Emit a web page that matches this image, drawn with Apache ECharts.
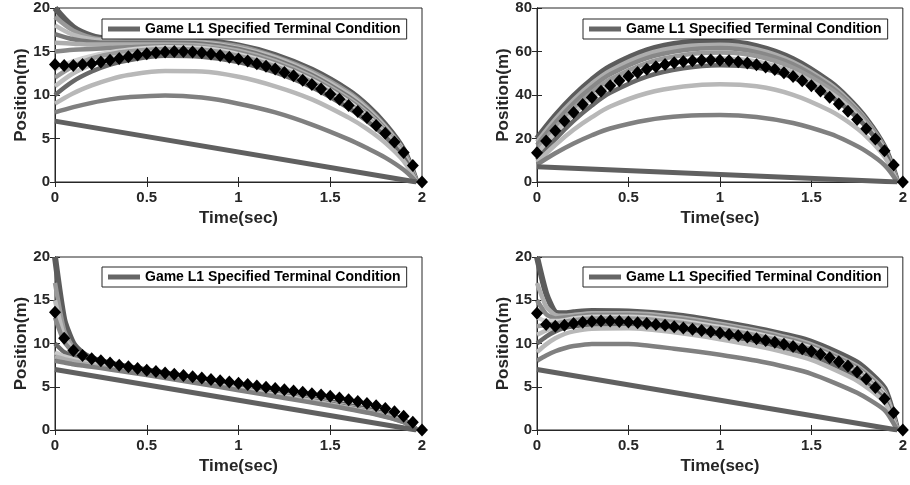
<!DOCTYPE html>
<html>
<head>
<meta charset="utf-8">
<script src="https://cdn.jsdelivr.net/npm/echarts@6/dist/echarts.min.js"></script>
<style>
  html, body { margin: 0; padding: 0; background: #fff; }
  #chart { width: 910px; height: 485px; }
</style>
</head>
<body>
<div id="chart"></div>
<script>
// ---- data -------------------------------------------------------------
const LEGEND_NAME = 'Game L1 Specified Terminal Condition';

// time samples (sec)
const smoothTime = [0, 0.1, 0.2, 0.3, 0.4, 0.6, 0.8, 1.0, 1.2, 1.4, 1.6, 1.7, 1.8, 1.9, 1.97];
const kinkTime   = [0, 0.05, 0.1, 0.15, 0.2, 0.3, 0.5, 0.75, 1.0, 1.25, 1.5, 1.75, 1.9, 1.97];
const floorTime  = [0, 1.97];
const markerTime = [0, 0.05, 0.1, 0.15, 0.2, 0.25, 0.3, 0.35, 0.4, 0.45, 0.5, 0.55, 0.6, 0.65, 0.7,
                    0.75, 0.8, 0.85, 0.9, 0.95, 1.0, 1.05, 1.1, 1.15, 1.2, 1.25, 1.3, 1.35, 1.4, 1.45,
                    1.5, 1.55, 1.6, 1.65, 1.7, 1.75, 1.8, 1.85, 1.9, 1.95, 2.0];

// straight baseline trajectory shared by all four cases (m)
const floorPos = [7, 0];

// case 1 (top left) trajectories, position (m) on smoothTime
const topLeftCurves = [
  [20, 17.8, 16.8, 16.4, 16.3, 16.3, 16.2, 15.7, 14.6, 12.9, 10.5, 8.8, 6.6, 3.7, 0],
  [19.0, 17.4, 16.6, 16.3, 16.2, 16.2, 16.1, 15.6, 14.4, 12.7, 10.3, 8.6, 6.4, 3.6, 0],
  [18.0, 16.9, 16.4, 16.2, 16.1, 16.1, 16.0, 15.4, 14.3, 12.5, 10.1, 8.4, 6.3, 3.5, 0],
  [17.0, 16.4, 16.1, 16.0, 16.0, 16.0, 15.9, 15.3, 14.1, 12.3, 9.8, 8.2, 6.1, 3.4, 0],
  [16.0, 15.9, 15.8, 15.8, 15.8, 15.8, 15.7, 15.1, 13.9, 12.1, 9.6, 8.0, 6.0, 3.3, 0],
  [15.0, 15.2, 15.3, 15.4, 15.5, 15.6, 15.5, 14.9, 13.7, 11.9, 9.4, 7.8, 5.8, 3.2, 0],
  [13.0, 13.9, 14.5, 14.9, 15.2, 15.5, 15.4, 14.7, 13.5, 11.7, 9.2, 7.6, 5.6, 3.1, 0],
  [12.0, 13.3, 14.2, 14.7, 15.0, 15.3, 15.2, 14.5, 13.3, 11.5, 9.0, 7.4, 5.5, 3.0, 0],
  [11.0, 12.5, 13.5, 14.2, 14.6, 15.0, 14.9, 14.2, 13.0, 11.2, 8.8, 7.2, 5.4, 2.9, 0],
  [10.0, 11.6, 12.7, 13.5, 14.0, 14.5, 14.4, 13.8, 12.6, 10.9, 8.5, 7.0, 5.2, 2.8, 0],
  [9.0, 10.2, 11.1, 11.8, 12.3, 12.75, 12.7, 12.1, 11.0, 9.5, 7.4, 6.1, 4.5, 2.4, 0],
  [8.0, 8.6, 9.1, 9.5, 9.75, 9.95, 9.7, 9.0, 8.0, 6.6, 4.9, 3.9, 2.8, 1.4, 0]
];
const topLeftMarkers = [13.5, 13.4, 13.4, 13.5, 13.6, 13.8, 14.0, 14.2, 14.4, 14.6, 14.75, 14.85, 14.95, 15.0,
  15.0, 14.95, 14.85, 14.7, 14.55, 14.35, 14.15, 13.9, 13.6, 13.3, 13.0, 12.6, 12.2, 11.7, 11.2, 10.7,
  10.1, 9.5, 8.8, 8.1, 7.4, 6.5, 5.6, 4.6, 3.4, 1.9, 0];

// case 2 (top right) trajectories on smoothTime
const topRightCurves = [
  [20, 30.5, 39.5, 47, 53, 60.5, 64, 64.6, 62.5, 56.5, 46, 38.5, 29, 16, 0],
  [18.5, 28.9, 37.8, 45.3, 51.2, 58.8, 62.3, 63.1, 61.1, 55.2, 45.1, 37.8, 28.5, 15.8, 0],
  [17, 27.3, 36.2, 43.5, 49.5, 57.0, 60.6, 61.6, 59.7, 54.1, 44.1, 37.0, 28.0, 15.4, 0],
  [15, 25.1, 33.9, 41.2, 47.2, 54.7, 58.4, 59.5, 57.9, 52.5, 42.9, 36.1, 27.2, 15.0, 0],
  [13, 22.9, 31.5, 38.6, 44.5, 51.9, 55.6, 56.8, 55.4, 50.4, 41.2, 34.7, 26.2, 14.6, 0],
  [10, 19.7, 28.1, 35.2, 41.0, 48.5, 52.3, 53.7, 52.6, 48.0, 39.5, 33.3, 25.2, 14.0, 0],
  [9, 17.0, 24.0, 29.8, 34.7, 40.8, 43.9, 45.0, 44.0, 40.1, 32.9, 27.7, 21.0, 11.6, 0],
  [8, 13.2, 17.7, 21.5, 24.6, 28.4, 30.3, 30.8, 29.9, 27.1, 22.2, 18.6, 14.1, 7.8, 0]
];
const topRightMarkers = [13.5, 18.8, 23.6, 28.0, 32.0, 35.6, 38.8, 41.7, 44.3, 46.6, 48.6, 50.3, 51.8, 53.0,
  54.0, 54.8, 55.4, 55.8, 56.0, 56.1, 56.0, 55.7, 55.3, 54.7, 53.9, 52.9, 51.7, 50.2, 48.5, 46.5,
  44.3, 41.8, 39.0, 35.9, 32.5, 28.7, 24.5, 19.8, 14.4, 7.8, 0];

// case 3 (bottom left) trajectories on kinkTime
const bottomLeftCurves = [
  [20, 12.8, 10.0, 8.9, 8.3, 7.7, 6.9, 6.0, 5.05, 4.15, 3.2, 2.1, 1.1, 0],
  [17, 11.5, 9.5, 8.6, 8.1, 7.6, 6.85, 5.95, 5.0, 4.1, 3.15, 2.05, 1.05, 0],
  [15, 10.8, 9.2, 8.5, 8.0, 7.55, 6.8, 5.9, 4.95, 4.05, 3.1, 2.0, 1.0, 0],
  [13, 10.2, 9.0, 8.4, 7.95, 7.5, 6.75, 5.85, 4.9, 4.0, 3.05, 1.95, 1.0, 0],
  [10, 9.0, 8.5, 8.1, 7.8, 7.4, 6.7, 5.8, 4.85, 3.95, 3.0, 1.9, 0.95, 0],
  [9, 8.5, 8.2, 7.9, 7.65, 7.3, 6.6, 5.7, 4.8, 3.9, 2.95, 1.9, 0.95, 0],
  [8.5, 8.2, 7.95, 7.7, 7.5, 7.15, 6.5, 5.6, 4.7, 3.8, 2.9, 1.85, 0.9, 0],
  [8, 7.8, 7.6, 7.45, 7.3, 7.0, 6.35, 5.5, 4.6, 3.7, 2.8, 1.8, 0.9, 0]
];
const bottomLeftMarkers = [13.6, 10.6, 9.2, 8.6, 8.25, 8.0, 7.75, 7.5, 7.3, 7.1, 6.9, 6.75, 6.6, 6.45,
  6.3, 6.15, 6.0, 5.85, 5.7, 5.55, 5.4, 5.25, 5.1, 4.95, 4.8, 4.65, 4.5, 4.35, 4.2, 4.05,
  3.9, 3.7, 3.5, 3.3, 3.05, 2.8, 2.5, 2.1, 1.6, 0.9, 0];

// case 4 (bottom right) trajectories on kinkTime
const bottomRightCurves = [
  [20, 15.8, 13.6, 13.5, 13.6, 13.75, 13.7, 13.3, 12.5, 11.5, 10.2, 7.8, 4.8, 0],
  [17, 14.3, 13.3, 13.2, 13.3, 13.5, 13.5, 13.1, 12.3, 11.3, 9.9, 7.4, 4.5, 0],
  [15, 13.4, 12.9, 13.0, 13.1, 13.3, 13.3, 12.9, 12.1, 11.1, 9.7, 7.2, 4.3, 0],
  [13, 12.6, 12.6, 12.7, 12.9, 13.1, 13.1, 12.7, 11.9, 10.9, 9.5, 7.0, 4.1, 0],
  [12, 12.1, 12.3, 12.5, 12.7, 12.9, 12.9, 12.5, 11.7, 10.7, 9.3, 6.8, 3.9, 0],
  [11, 11.5, 11.9, 12.2, 12.4, 12.6, 12.6, 12.2, 11.4, 10.4, 9.0, 6.5, 3.7, 0],
  [10, 10.8, 11.4, 11.8, 12.0, 12.2, 12.2, 11.8, 11.0, 10.0, 8.6, 6.2, 3.5, 0],
  [9, 9.9, 10.6, 11.1, 11.4, 11.7, 11.75, 11.3, 10.5, 9.5, 8.1, 5.7, 3.2, 0],
  [8, 8.6, 9.1, 9.45, 9.7, 9.95, 9.95, 9.4, 8.7, 7.8, 6.5, 4.3, 2.3, 0]
];
const bottomRightMarkers = [13.5, 12.2, 12.0, 12.1, 12.3, 12.45, 12.55, 12.6, 12.6, 12.55, 12.5, 12.4, 12.3, 12.2,
  12.1, 11.95, 11.8, 11.65, 11.5, 11.35, 11.2, 11.05, 10.9, 10.75, 10.55, 10.35, 10.15, 9.9, 9.65, 9.4,
  9.1, 8.75, 8.35, 7.9, 7.4, 6.7, 5.9, 4.9, 3.6, 2.0, 0];

// axis ranges
const xMax = 2, xStep = 0.5;
const yMaxes = [20, 80, 20, 20];
const ySteps = [5, 20, 5, 5];

// ---- styling ----------------------------------------------------------
const topLeftShades = ['#5c5c5c', '#999999', '#bbbbbb', '#777777', '#adadad', '#888888', '#d0d0d0',
                       '#9a9a9a', '#bdbdbd', '#686868', '#b8b8b8', '#808080'];
const topRightShades = ['#5c5c5c', '#adadad', '#888888', '#9a9a9a', '#bdbdbd', '#686868', '#b8b8b8', '#808080'];
const bottomLeftShades = ['#5c5c5c', '#999999', '#bbbbbb', '#888888', '#686868', '#c9c9c9', '#adadad', '#808080'];
const bottomRightShades = ['#5c5c5c', '#adadad', '#888888', '#d0d0d0', '#9a9a9a', '#bdbdbd', '#686868', '#b8b8b8', '#808080'];

const FONT = '"Liberation Sans", Arial, Helvetica, sans-serif';
const INK = '#262626';

const panels = [
  { curves: topLeftCurves, shades: topLeftShades, time: smoothTime, markers: topLeftMarkers, smooth: 0.35 },
  { curves: topRightCurves, shades: topRightShades, time: smoothTime, markers: topRightMarkers, smooth: 0.35 },
  { curves: bottomLeftCurves, shades: bottomLeftShades, time: kinkTime, markers: bottomLeftMarkers, smooth: 0.2 },
  { curves: bottomRightCurves, shades: bottomRightShades, time: kinkTime, markers: bottomRightMarkers, smooth: 0.2 }
];

const gridBoxes = [
  { left: 55, top: 8, width: 367, height: 174 },
  { left: 537, top: 8, width: 366, height: 174 },
  { left: 55, top: 257, width: 367, height: 173 },
  { left: 537, top: 257, width: 366, height: 173 }
];
const legendBoxes = [
  { left: 102, top: 19 }, { left: 583, top: 19 },
  { left: 102, top: 267 }, { left: 583, top: 267 }
];

const zip = (xs, ys) => xs.map((x, i) => [x, ys[i]]);

const grid = gridBoxes.map(b => Object.assign({ show: true, borderColor: INK, borderWidth: 1, backgroundColor: '#fff' }, b));

const tickStyle = { show: true, inside: true, length: 5, lineStyle: { color: INK, width: 1 } };
const lineStyleAxis = { show: true, lineStyle: { color: INK, width: 1 } };

const xAxis = [];
const yAxis = [];
// main axes (bottom / left) with labels
panels.forEach((p, i) => {
  xAxis.push({
    type: 'value', gridIndex: i, min: 0, max: xMax, interval: xStep, position: 'bottom',
    axisLine: lineStyleAxis, axisTick: tickStyle, splitLine: { show: false },
    axisLabel: { color: INK, fontFamily: FONT, fontWeight: 'bold', fontSize: 15, margin: 8 },
    name: 'Time(sec)', nameLocation: 'middle', nameGap: 28,
    nameTextStyle: { color: INK, fontFamily: FONT, fontWeight: 'bold', fontSize: 17 }
  });
  yAxis.push({
    type: 'value', gridIndex: i, min: 0, max: yMaxes[i], interval: ySteps[i], position: 'left',
    axisLine: lineStyleAxis, axisTick: tickStyle, splitLine: { show: false },
    axisLabel: { color: INK, fontFamily: FONT, fontWeight: 'bold', fontSize: 15, margin: 5 },
    name: 'Position(m)', nameLocation: 'middle', nameGap: 21, nameRotate: 90,
    nameTextStyle: { color: INK, fontFamily: FONT, fontWeight: 'bold', fontSize: 17 }
  });
});
// mirrored axes (top / right): ticks only, closing the box
panels.forEach((p, i) => {
  xAxis.push({
    type: 'value', gridIndex: i, min: 0, max: xMax, interval: xStep, position: 'top',
    axisLine: lineStyleAxis, axisTick: tickStyle, axisLabel: { show: false }, splitLine: { show: false }
  });
  yAxis.push({
    type: 'value', gridIndex: i, min: 0, max: yMaxes[i], interval: ySteps[i], position: 'right',
    axisLine: lineStyleAxis, axisTick: tickStyle, axisLabel: { show: false }, splitLine: { show: false }
  });
});

const series = [];
panels.forEach((p, i) => {
  p.curves.forEach((c, k) => {
    series.push({
      type: 'line', name: k === 0 ? LEGEND_NAME : 'trajectory',
      xAxisIndex: i, yAxisIndex: i,
      data: zip(p.time, c), smooth: p.smooth, showSymbol: false, symbol: 'none',
      lineStyle: { color: p.shades[k], width: k === 0 ? 6 : 4.5 },
      emphasis: { disabled: true }, silent: true, z: 2
    });
  });
  series.push({
    type: 'line', name: 'baseline', xAxisIndex: i, yAxisIndex: i,
    data: zip(floorTime, floorPos), showSymbol: false, symbol: 'none',
    lineStyle: { color: '#606060', width: 5 }, emphasis: { disabled: true }, silent: true, z: 2
  });
  series.push({
    type: 'scatter', name: 'game', xAxisIndex: i, yAxisIndex: i,
    data: zip(markerTime, p.markers), symbol: 'diamond', symbolSize: [12, 13],
    itemStyle: { color: '#000', opacity: 1 }, clip: false, silent: true, z: 4
  });
});

const legend = legendBoxes.map(b => ({
  left: b.left, top: b.top, orient: 'horizontal',
  backgroundColor: '#fff', borderColor: INK, borderWidth: 1, borderRadius: 0,
  padding: [3, 6, 3, 6], itemWidth: 32, itemHeight: 5, itemGap: 4, selectedMode: false,
  textStyle: { color: '#000', fontFamily: FONT, fontWeight: 'bold', fontSize: 14 },
  data: [{ name: LEGEND_NAME, icon: 'rect', itemStyle: { color: '#666666' } }]
}));

const chart = echarts.init(document.getElementById('chart'), null, { renderer: 'canvas' });
chart.setOption({
  animation: false,
  backgroundColor: '#fff',
  grid, xAxis, yAxis, legend, series
});
</script>
</body>
</html>
